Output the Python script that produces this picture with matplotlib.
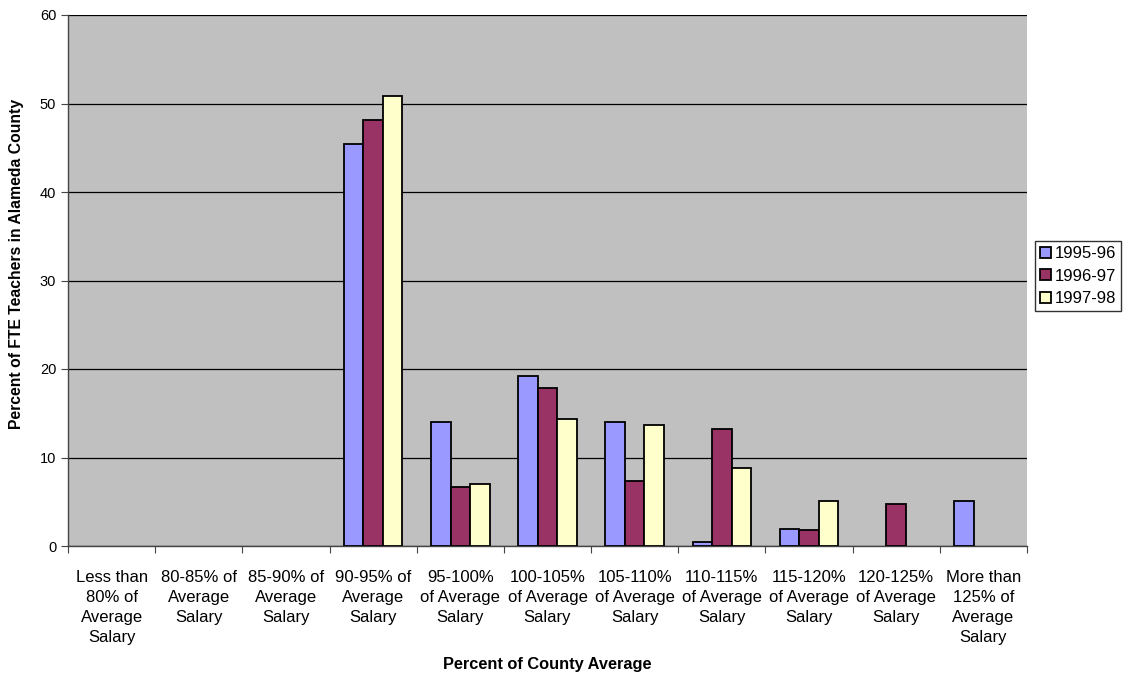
import matplotlib
matplotlib.use("Agg")
import matplotlib.pyplot as plt
import numpy as np

plt.rcParams['font.family'] = ['Liberation Sans', 'DejaVu Sans']

categories = [
    "Less than\n80% of\nAverage\nSalary",
    "80-85% of\nAverage\nSalary",
    "85-90% of\nAverage\nSalary",
    "90-95% of\nAverage\nSalary",
    "95-100%\nof Average\nSalary",
    "100-105%\nof Average\nSalary",
    "105-110%\nof Average\nSalary",
    "110-115%\nof Average\nSalary",
    "115-120%\nof Average\nSalary",
    "120-125%\nof Average\nSalary",
    "More than\n125% of\nAverage\nSalary",
]
series_names = ["1995-96", "1996-97", "1997-98"]
values_1995 = [0, 0, 0, 45.4, 14.0, 19.2, 14.0, 0.4, 1.95, 0, 5.1]
values_1996 = [0, 0, 0, 48.1, 6.7, 17.9, 7.3, 13.25, 1.85, 4.8, 0]
values_1997 = [0, 0, 0, 50.9, 7.0, 14.35, 13.7, 8.8, 5.1, 0, 0]
colors = ["#9999FF", "#993366", "#FFFFCC"]

W, H = 1130, 679
fig = plt.figure(figsize=(W / 100, H / 100), dpi=100)
ax = fig.add_axes([68 / W, 1 - 546 / H, (1027 - 68) / W, (546 - 15) / H])
ax.set_facecolor("#C0C0C0")

x = np.arange(len(categories))
width = 0.224
for i, (vals, name, col) in enumerate(zip([values_1995, values_1996, values_1997], series_names, colors)):
    v = np.array(vals, dtype=float)
    mask = v > 0
    ax.bar(x[mask] + (i - 1) * width, v[mask], width, color=col, edgecolor="black",
           linewidth=1.3, label=name, zorder=3)

ax.set_xlim(-0.5, len(categories) - 0.5)
ax.set_ylim(0, 60)
ax.set_yticks(range(0, 61, 10))
ax.yaxis.grid(True, color="black", linewidth=0.9, zorder=1)
ax.set_axisbelow(True)

# category boundaries carry the tick marks, labels sit at category centres
ax.set_xticks(np.arange(-0.5, len(categories), 1.0))
ax.set_xticklabels([])
ax.set_xticks(x, minor=True)
ax.set_xticklabels(categories, minor=True, fontsize=12, linespacing=1.43)
ax.tick_params(axis="x", which="major", direction="out", length=5, color="#444444")
ax.tick_params(axis="x", which="minor", length=0, pad=17)
ax.tick_params(axis="y", direction="out", length=5, color="#444444", labelsize=10.5)

for s in ["top", "right"]:
    ax.spines[s].set_visible(False)
for s in ["left", "bottom"]:
    ax.spines[s].set_color("#444444")
    ax.spines[s].set_linewidth(1.0)

ax.set_xlabel("Percent of County Average", fontsize=11.8, fontweight="bold")
ax.xaxis.set_label_coords(0.5, (546 - 665) / (546 - 15))
ax.xaxis.label.set_va("center")
ax.set_ylabel("Percent of FTE Teachers in Alameda County", fontsize=11.3, fontweight="bold")
ax.yaxis.set_label_coords((17 - 68) / (1027 - 68), (546 - 264) / (546 - 15))
ax.yaxis.label.set_va("center")

leg = ax.legend(loc="upper left", bbox_to_anchor=(1035 / W, 1 - 241 / H),
                bbox_transform=fig.transFigure, fontsize=12, frameon=True, fancybox=False,
                handlelength=0.65, handleheight=0.65, handletextpad=0.25, borderpad=0.3,
                labelspacing=0.45, borderaxespad=0)
leg.get_frame().set_edgecolor("black")
leg.get_frame().set_linewidth(1.0)
leg.get_frame().set_facecolor("white")

fig.savefig("out.png", dpi=100)
